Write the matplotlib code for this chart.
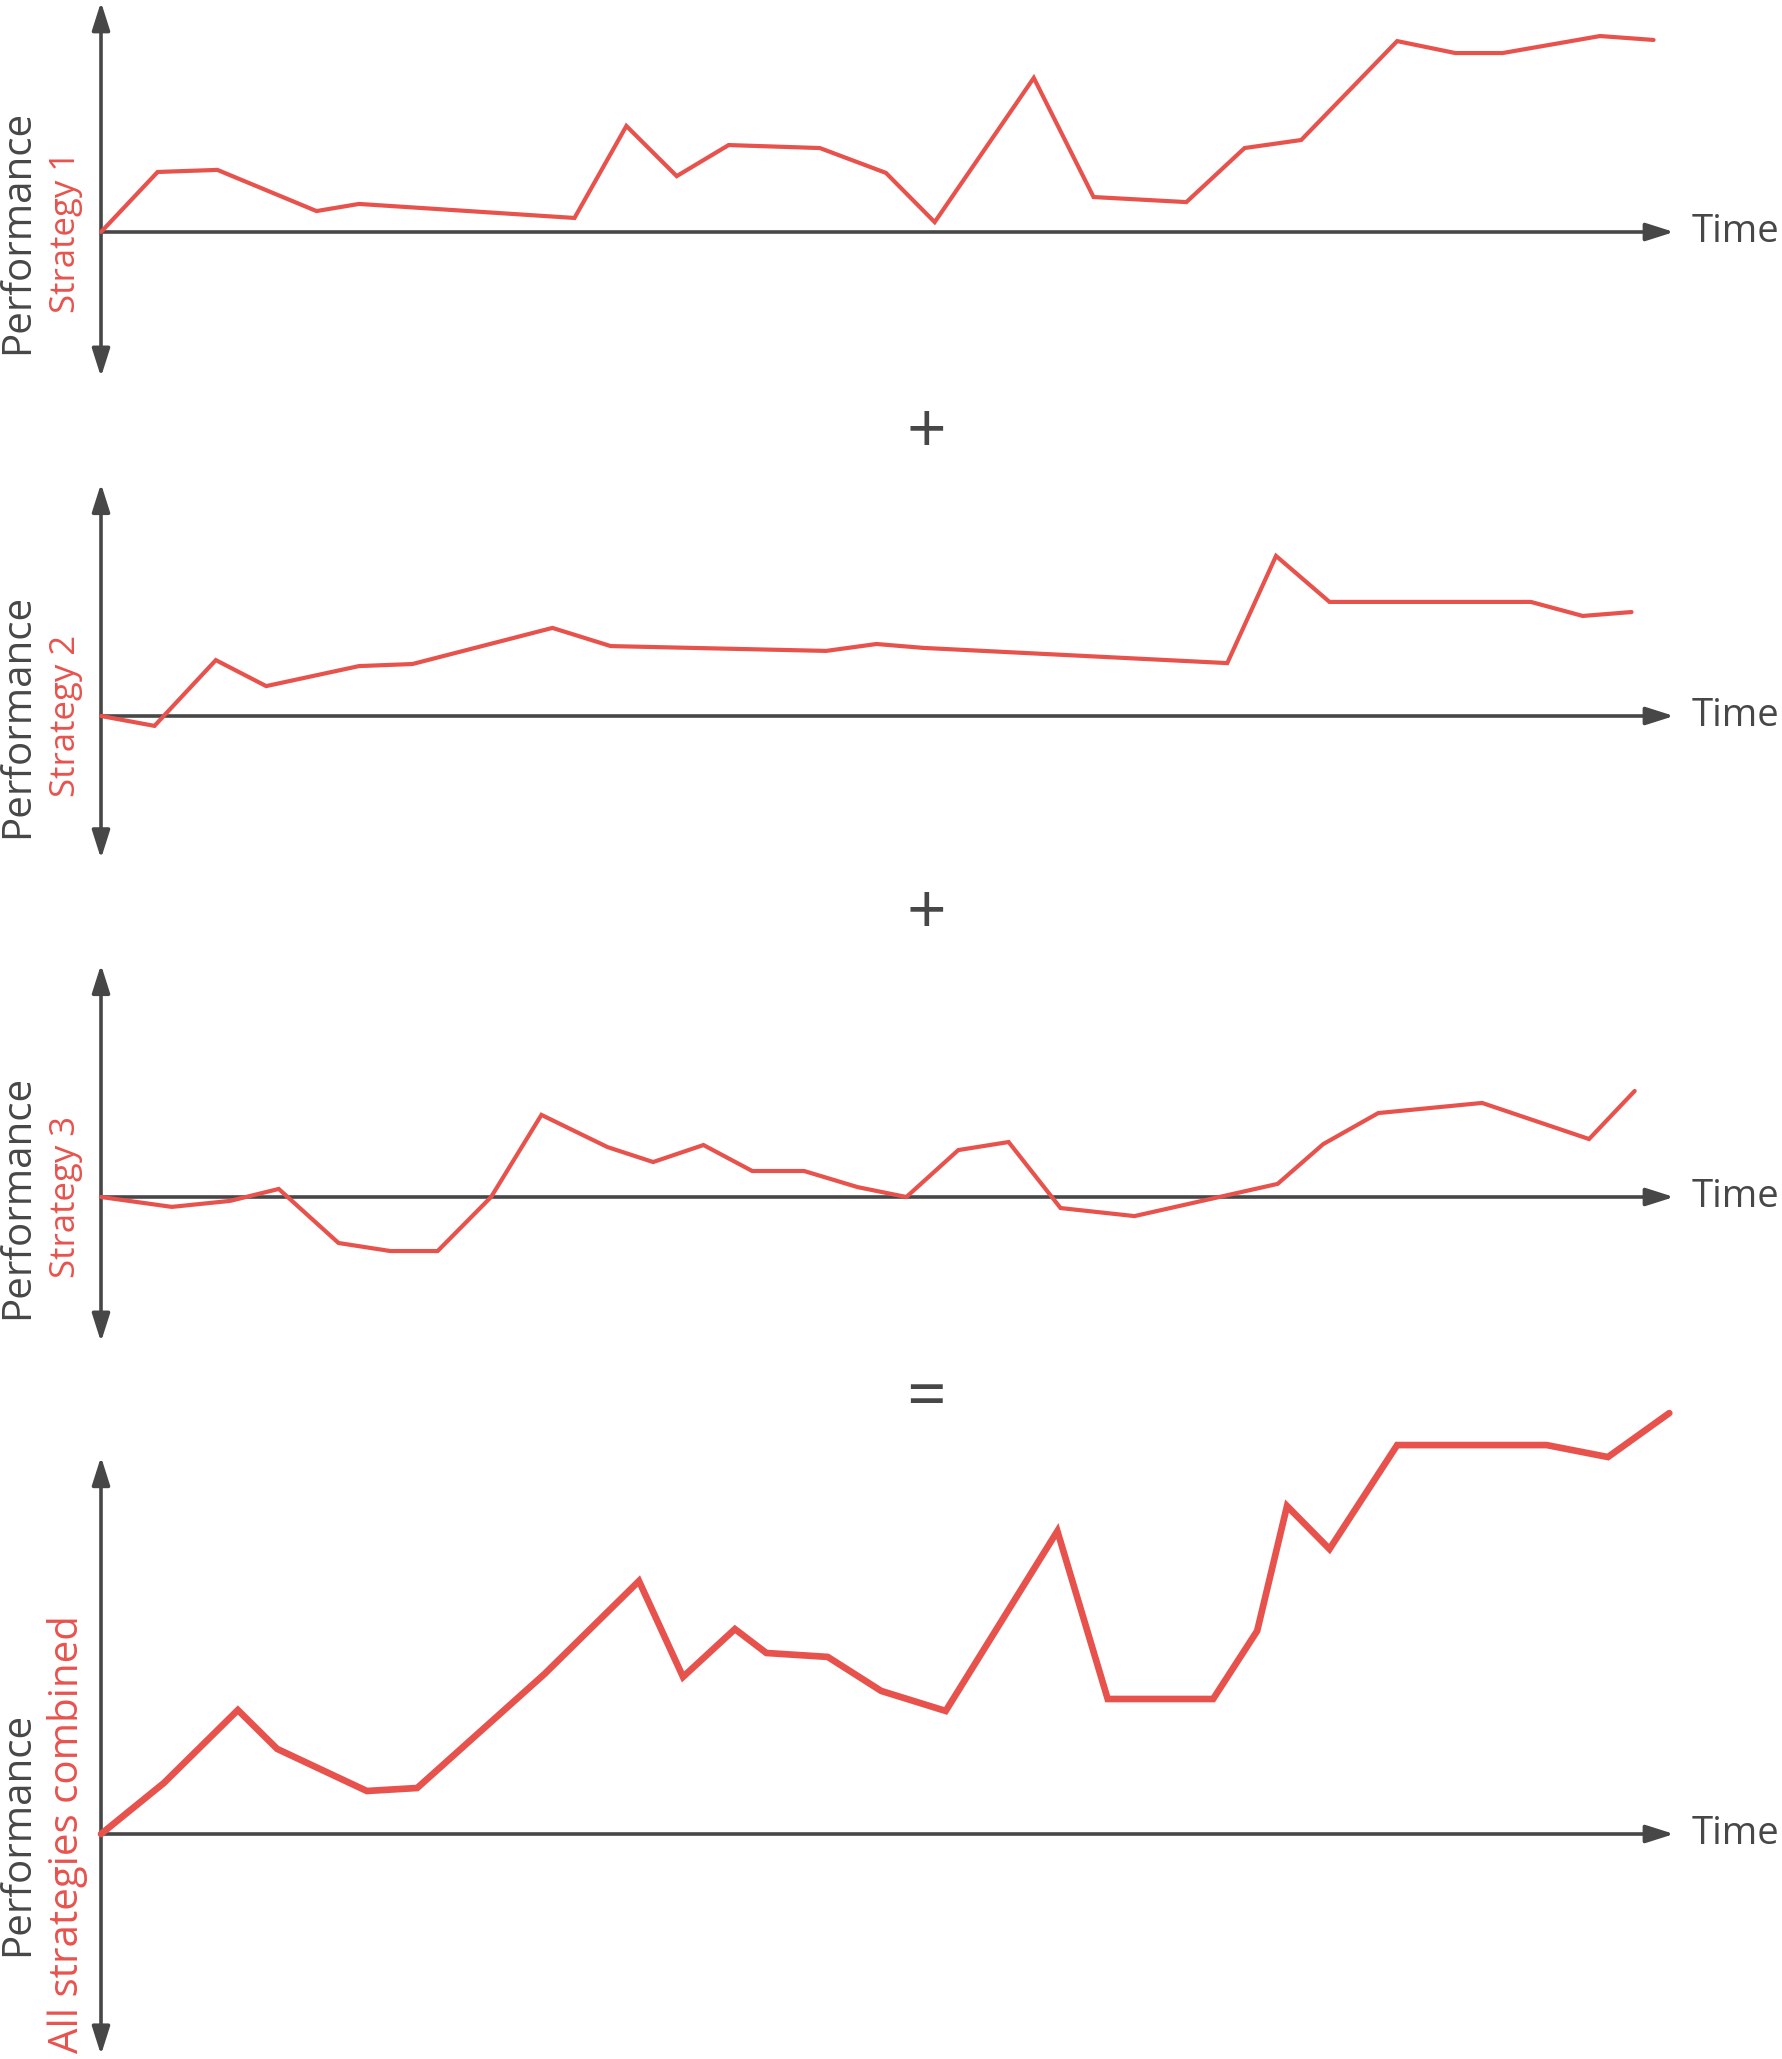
import matplotlib
matplotlib.use("Agg")
import matplotlib.pyplot as plt

plt.rcParams['font.family'] = ['Open Sans', 'DejaVu Sans']

RED = '#e8524d'
GREY = '#474747'

# time axis runs 0..100, performance in arbitrary units (0 = start)
t1 = [0, 3.6, 7.4, 13.7, 16.4, 30.1, 33.4, 36.6, 39.9, 45.7, 49.9, 53.0, 59.3,
      63.1, 69.0, 72.7, 76.3, 82.4, 86.1, 89.1, 95.3, 98.7]
p1 = [0, 26.1, 27.0, 9.1, 12.2, 6.1, 46.1, 24.3, 37.8, 36.5, 25.7, 4.3, 67.0,
      15.2, 13.0, 36.5, 40.0, 83.0, 77.8, 77.8, 85.2, 83.5]

t2 = [0, 3.4, 7.3, 10.5, 16.4, 19.8, 28.7, 32.4, 46.1, 49.3, 52.3, 71.6, 74.7,
      78.1, 90.9, 94.2, 97.3]
p2 = [0, -4.3, 24.3, 13.0, 21.7, 22.6, 38.3, 30.4, 28.3, 31.3, 29.6, 23.0, 69.6,
      49.6, 49.6, 43.5, 45.2]

t3 = [0, 4.5, 8.2, 11.3, 15.1, 18.4, 21.4, 24.8, 28.0, 32.2, 35.1, 38.3, 41.4,
      44.7, 48.1, 51.2, 54.5, 57.7, 61.0, 65.7, 74.8, 77.7, 81.2, 87.8, 94.6, 97.5]
p3 = [0, -4.3, -1.7, 3.5, -20.0, -23.5, -23.5, 0, 35.7, 21.7, 15.2, 22.6, 11.3,
      11.3, 4.3, 0, 20.4, 23.9, -4.8, -8.3, 5.7, 23.0, 36.5, 40.9, 25.2, 46.1]

t4 = [0, 4.0, 8.7, 11.2, 16.9, 20.1, 28.2, 34.2, 37.0, 40.3, 42.3, 46.2, 49.6,
      53.7, 60.8, 64.0, 70.7, 73.5, 75.4, 78.1, 82.4, 91.9, 95.8, 99.7]
p4 = [0, 22.2, 53.9, 37.0, 18.7, 20.0, 69.6, 110.0, 68.3, 89.1, 78.7, 77.0, 62.2,
      53.5, 131.7, 58.7, 58.7, 88.3, 142.6, 123.9, 169.1, 169.1, 163.9, 183.0]

labels = ['Strategy 1', 'Strategy 2', 'Strategy 3', 'All strategies combined']
ops = ['+', '+', '=']

series = [(t1, p1), (t2, p2), (t3, p3), (t4, p4)]
ylims = [(-63, 100), (-62, 101), (-63, 101), (-96, 164)]
zero_px = [232, 716, 1197, 1834]
op_px = [435, 916, 1400]
lws = [3.0, 3.0, 3.0, 4.8]
label_size = [25, 25, 25, 29]
label_x = [66, 66, 66, 68]

W, H = 1782, 2059
fig = plt.figure(figsize=(W / 100, H / 100), dpi=100)
px_per_unit = 2.3
x0, x1 = 101, 1674

for i, (t, p) in enumerate(series):
    lo, hi = ylims[i]
    top = zero_px[i] - hi * px_per_unit
    bot = zero_px[i] - lo * px_per_unit
    ax = fig.add_axes([x0 / W, 1 - bot / H, (x1 - x0) / W, (bot - top) / H])
    ax.set_xlim(0, 100)
    ax.set_ylim(lo, hi)
    ax.axis('off')

    arrow = dict(arrowstyle='<|-|>,head_length=17,head_width=5.4', color=GREY,
                 lw=2.6, shrinkA=0, shrinkB=0, mutation_scale=1)
    ax.annotate('', xy=(0, hi), xytext=(0, lo), arrowprops=arrow,
                annotation_clip=False)
    arrow = dict(arrow, arrowstyle='-|>,head_length=17,head_width=5.4')
    ax.annotate('', xy=(100, 0), xytext=(0, 0), arrowprops=arrow,
                annotation_clip=False)

    ax.plot(t, p, color=RED, lw=lws[i], solid_joinstyle='miter',
            solid_capstyle='round', clip_on=False, zorder=3)

    yf = 1 - zero_px[i] / H
    fig.text(18 / W, yf, 'Performance', rotation=90, ha='center', va='center',
             fontsize=29, color=GREY)
    fig.text(label_x[i] / W, yf, labels[i], rotation=90, ha='center',
             va='center', fontsize=label_size[i], color=RED)
    fig.text(1692 / W, yf, 'Time', ha='left', va='center', fontsize=27.5,
             color=GREY)

for k, op in enumerate(ops):
    fig.text(926 / W, 1 - op_px[k] / H, op, ha='center', va='center',
             fontsize=50, color=GREY)

fig.savefig('out.png', dpi=100)
